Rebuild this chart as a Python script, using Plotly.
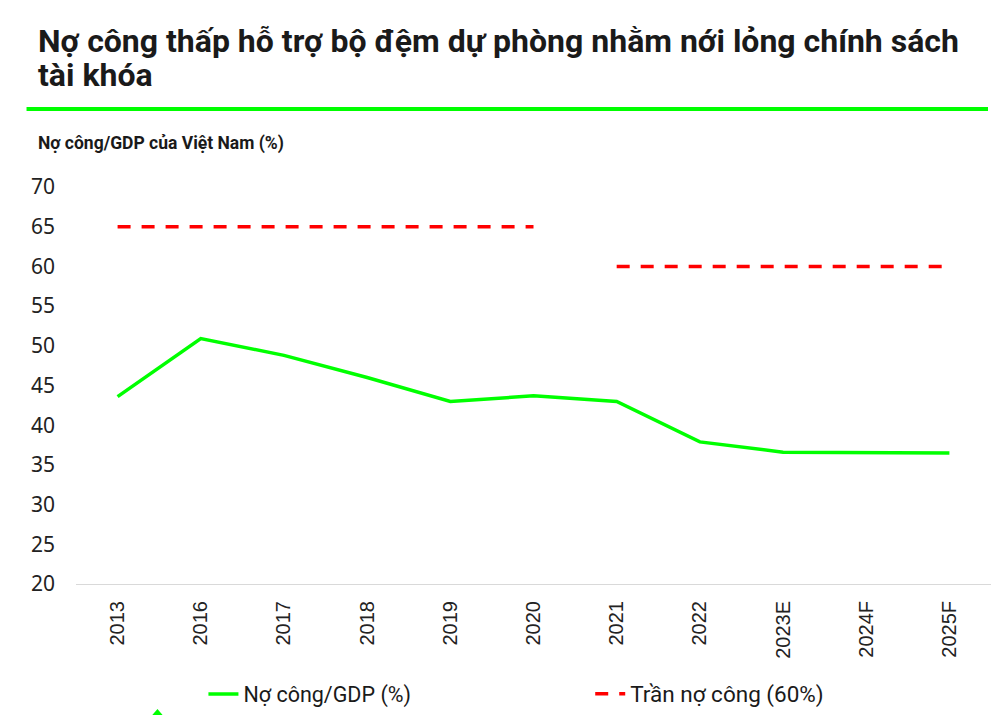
import plotly.graph_objects as go

# Data
years = ["2013", "2016", "2017", "2018", "2019", "2020", "2021", "2022", "2023E", "2024F", "2025F"]
debt_to_gdp = [43.6, 50.9, 48.8, 46.0, 43.0, 43.7, 43.0, 37.9, 36.6, 36.5, 36.5]
ceiling_old_years = years[:6]
ceiling_old = [65, 65, 65, 65, 65, 65]
ceiling_new_years = years[6:]
ceiling_new = [60, 60, 60, 60, 60]
y_ticks = [20, 25, 30, 35, 40, 45, 50, 55, 60, 65, 70]

# page body has an 8px margin all round, so size the figure to fit the window
OFF = 8
W, H = 1004 - 2 * OFF, 723 - 2 * OFF
# plot area in screen pixels: left 75.5, right 991, top 187, bottom 584
L, T = 75.5 - OFF, 187 - OFF
R, B = W - (991 - OFF), H - (584 - OFF)
pw, ph = W - L - R, H - T - B


def sx(x):
    # screen x -> paper x
    return (x - OFF - L) / pw


def sy(y):
    # screen y -> paper y
    return (H - B + OFF - y) / ph


green = "#00FF00"
red = "#FF0000"

fig = go.Figure()
fig.add_trace(go.Scatter(
    x=years, y=debt_to_gdp, mode="lines", name="Nợ công/GDP (%)",
    line=dict(color=green, width=3.5), legend="legend", showlegend=True
))
fig.add_trace(go.Scatter(
    x=ceiling_old_years, y=ceiling_old, mode="lines", name="Trần nợ công (60%)",
    legendgroup="ceiling", legend="legend2", showlegend=True,
    line=dict(color=red, width=3.5, dash="13px,11px")
))
fig.add_trace(go.Scatter(
    x=ceiling_new_years, y=ceiling_new, mode="lines", name="Trần nợ công (60%)",
    legendgroup="ceiling", legend="legend2", showlegend=False,
    line=dict(color=red, width=3.5, dash="13px,11px")
))

legend_font = dict(size=21.5, family="Roboto", color="#1a1a1a")
fig.update_layout(
    width=W, height=H, showlegend=True,
    margin=dict(l=L, r=R, t=T, b=B, autoexpand=False),
    paper_bgcolor="white", plot_bgcolor="white",
    font=dict(family="Roboto, sans-serif", color="#1a1a1a"),
    legend=dict(
        orientation="h", x=sx(203), y=sy(694), xanchor="left", yanchor="middle",
        font=legend_font, bgcolor="rgba(0,0,0,0)", visible=True
    ),
    legend2=dict(
        orientation="h", x=sx(590), y=sy(694), xanchor="left", yanchor="middle",
        font=dict(size=22.5, family="Roboto", color="#1a1a1a"),
        bgcolor="rgba(0,0,0,0)", visible=True
    ),
)

fig.update_xaxes(
    type="category", range=[-0.5, 10.5], tickangle=-90,
    tickfont=dict(size=20, family="Liberation Sans", color="#222"),
    showline=True, linecolor="#d9d9d9", linewidth=1, showgrid=False,
    ticks="", ticklabelstandoff=8
)
fig.update_yaxes(
    range=[20, 70], tickvals=y_ticks, showgrid=False, zeroline=False,
    tickfont=dict(size=21, family="Noto Sans", color="#222"),
    ticks="", ticklabelstandoff=20
)

# Title, rule and axis caption
title_font = dict(size=32, family="Roboto", color="#1a1a1a")
fig.add_annotation(
    text="<b>Nợ công thấp hỗ trợ bộ đệm dự phòng nhằm nới lỏng chính sách</b>",
    xref="paper", yref="paper", x=sx(35), y=sy(41), xanchor="left", yanchor="middle",
    showarrow=False, font=title_font
)
fig.add_annotation(
    text="<b>tài khóa</b>",
    xref="paper", yref="paper", x=sx(35), y=sy(75), xanchor="left", yanchor="middle",
    showarrow=False, font=title_font
)
fig.add_shape(
    type="line", xref="paper", yref="paper",
    x0=sx(26), x1=sx(988), y0=sy(109), y1=sy(109),
    line=dict(color=green, width=4)
)
fig.add_annotation(
    text="<b>Nợ công/GDP của Việt Nam (%)</b>",
    xref="paper", yref="paper", x=sx(35), y=sy(144), xanchor="left", yanchor="middle",
    showarrow=False, font=dict(size=17.5, family="Roboto", color="#1a1a1a")
)
# small green marker cut at the bottom edge
fig.add_shape(
    type="path", xref="paper", yref="paper",
    path=f"M {sx(151)} {sy(716)} L {sx(157)} {sy(709)} L {sx(163)} {sy(716)} Z",
    fillcolor=green, line=dict(width=0)
)

fig.write_html("out.html")
